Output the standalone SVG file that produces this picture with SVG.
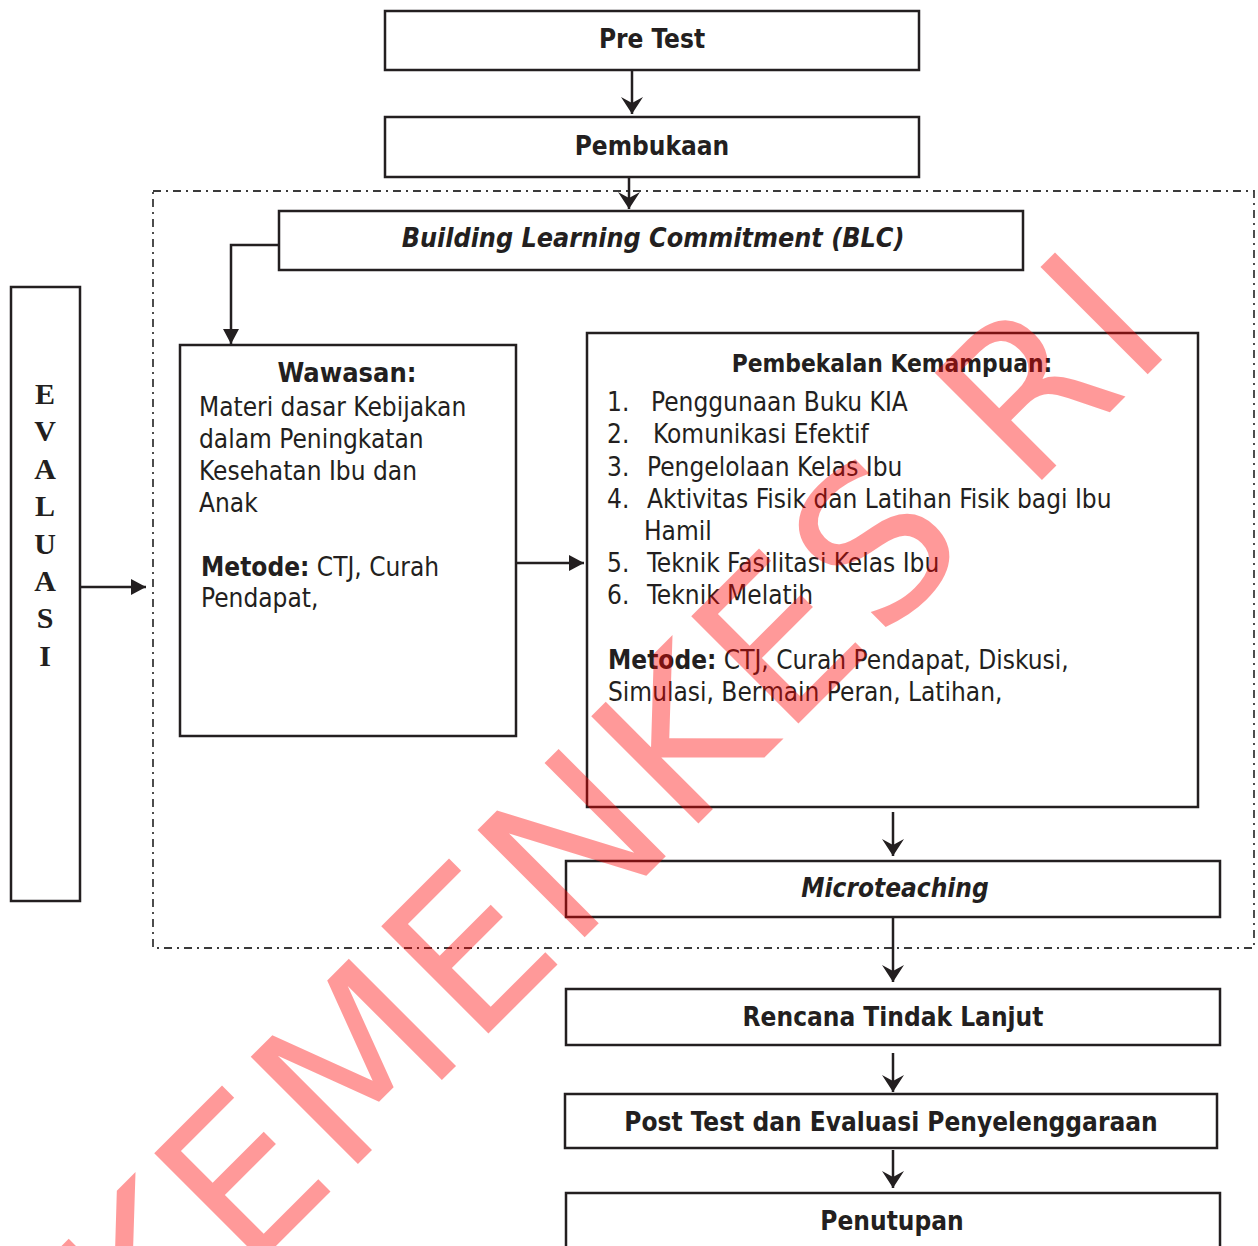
<svg xmlns="http://www.w3.org/2000/svg" width="1258" height="1246" viewBox="0 0 1258 1246">
<style>
.box{fill:#fff;stroke:#231f20;stroke-width:2.5}
.dd{fill:none;stroke:#3a3a3a;stroke-width:1.8;stroke-dasharray:8 5 2 5}
.t{font-family:"DejaVu Sans Condensed","DejaVu Sans",sans-serif;font-stretch:condensed;fill:#231f20;font-size:26px}
.b{font-weight:bold}
.c{text-anchor:middle}
.bi{font-weight:bold;font-style:italic}
.con{fill:none;stroke:#231f20;stroke-width:2.5}
.ev{font-family:"Liberation Serif",serif;font-weight:bold;font-size:30px;text-anchor:middle;fill:#231f20}
.wm{font-family:"DejaVu Sans",sans-serif;font-size:208px;fill:#ff0000;fill-opacity:0.4;letter-spacing:5px}
</style>
<defs>
<marker id="tri" markerUnits="userSpaceOnUse" markerWidth="16" markerHeight="16" refX="15" refY="8" orient="auto"><path d="M0,0 L15,8 L0,16 Z" fill="#231f20"/></marker>
<marker id="stl" markerUnits="userSpaceOnUse" markerWidth="18" markerHeight="24" refX="17" refY="12" orient="auto"><path d="M0,1 L17,12 L0,23 L6,12 Z" fill="#231f20"/></marker>
</defs>
<rect width="1258" height="1246" fill="#fff"/>
<rect class="dd" x="153" y="191" width="1101" height="757"/>

<g id="pretest"><rect class="box" x="385" y="11" width="534" height="59"/><text class="t b c" x="652" y="48">Pre Test</text></g>
<g id="pembukaan"><rect class="box" x="385" y="117" width="534" height="60"/><text class="t b c" x="652" y="155">Pembukaan</text></g>
<g id="blc"><rect class="box" x="279" y="211" width="744" height="59"/><text class="t bi c" x="653" y="247" style="font-size:26.7px">Building Learning Commitment (BLC)</text></g>
<g id="wawasan"><rect class="box" x="180" y="345" width="336" height="391"/>
<text class="t b c" x="347" y="382" style="font-size:27px">Wawasan:</text>
<text class="t" x="199" y="416">Materi dasar Kebijakan</text>
<text class="t" x="199" y="448">dalam Peningkatan</text>
<text class="t" x="199" y="480">Kesehatan Ibu dan</text>
<text class="t" x="199" y="512">Anak</text>
<text class="t" x="201" y="576"><tspan class="b">Metode:</tspan> CTJ, Curah</text>
<text class="t" x="201" y="607">Pendapat,</text>
</g>
<g id="pembekalan"><rect class="box" x="587" y="333" width="611" height="474"/>
<text class="t b c" x="892" y="372" style="font-size:24.3px">Pembekalan Kemampuan:</text>
<text class="t" x="607" y="411">1.</text><text class="t" x="651" y="411">Penggunaan Buku KIA</text>
<text class="t" x="607" y="443">2.</text><text class="t" x="653" y="443">Komunikasi Efektif</text>
<text class="t" x="607" y="476">3.</text><text class="t" x="647" y="476">Pengelolaan Kelas Ibu</text>
<text class="t" x="607" y="508">4.</text><text class="t" x="647" y="508">Aktivitas Fisik dan Latihan Fisik bagi Ibu</text>
<text class="t" x="644" y="540">Hamil</text>
<text class="t" x="607" y="572">5.</text><text class="t" x="647" y="572">Teknik Fasilitasi Kelas Ibu</text>
<text class="t" x="607" y="604">6.</text><text class="t" x="647" y="604">Teknik Melatih</text>
<text class="t" x="608" y="669"><tspan class="b">Metode:</tspan> CTJ, Curah Pendapat, Diskusi,</text>
<text class="t" x="608" y="701">Simulasi, Bermain Peran, Latihan,</text>
</g>
<g id="microteaching"><rect class="box" x="566" y="861" width="654" height="56"/><text class="t bi c" x="895" y="897">Microteaching</text></g>
<g id="rtl"><rect class="box" x="566" y="989" width="654" height="56"/><text class="t b c" x="893" y="1026">Rencana Tindak Lanjut</text></g>
<g id="posttest"><rect class="box" x="565" y="1094" width="652" height="54"/><text class="t b c" x="891" y="1131">Post Test dan Evaluasi Penyelenggaraan</text></g>
<g id="penutupan"><rect class="box" x="566" y="1193" width="654" height="62"/><text class="t b c" x="892" y="1230">Penutupan</text></g>
<g id="evaluasi"><rect class="box" x="11" y="287" width="69" height="614"/>
<text class="ev" x="45" y="404">E</text><text class="ev" x="45" y="441">V</text><text class="ev" x="45" y="479">A</text><text class="ev" x="45" y="516">L</text><text class="ev" x="45" y="554">U</text><text class="ev" x="45" y="591">A</text><text class="ev" x="45" y="628">S</text><text class="ev" x="45" y="666">I</text>
</g>

<g id="connectors">
<path class="con" d="M632,71 V114" marker-end="url(#stl)"/>
<path class="con" d="M629,178 V209" marker-end="url(#stl)"/>
<path class="con" d="M279,245 H231 V344" marker-end="url(#tri)"/>
<path class="con" d="M517,563 H584" marker-end="url(#tri)"/>
<path class="con" d="M81,587 H146" marker-end="url(#tri)"/>
<path class="con" d="M893,812 V856" marker-end="url(#stl)"/>
<path class="con" d="M893,918 V982" marker-end="url(#stl)"/>
<path class="con" d="M893,1053 V1092" marker-end="url(#stl)"/>
<path class="con" d="M893,1150 V1188" marker-end="url(#stl)"/>
</g>

<text class="wm" transform="translate(147,1375) rotate(-45)">KEMENKES RI</text>
</svg>
